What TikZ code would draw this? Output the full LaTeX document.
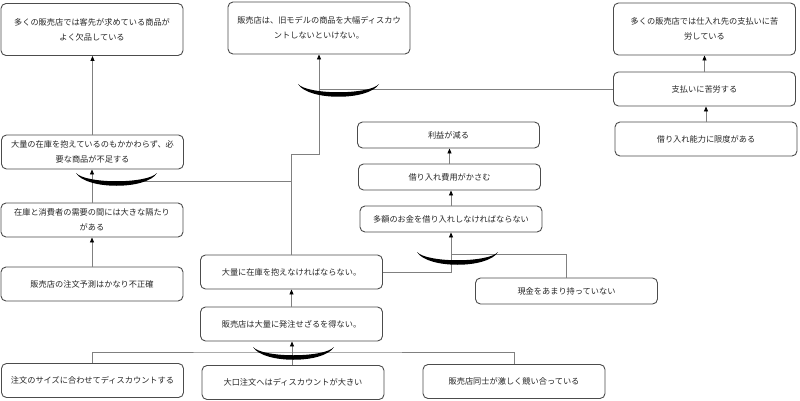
\documentclass[tikz,border=0pt]{standalone}
\usepackage{fontspec}
\newfontfamily\jpfont{Noto Sans CJK JP}
\usetikzlibrary{arrows.meta, calc}

\tikzset{
  box/.style={draw=black!70, rounded corners=5pt, line width=0.9pt, fill=white,
    align=center, text=black!85, inner sep=0pt, minimum width=182pt,
    font=\jpfont\fontsize{8.2}{15}\selectfont},
  low/.style={minimum height=26pt},
  mid/.style={minimum height=34pt},
  tall/.style={minimum height=52pt},
  link/.style={draw=black!50, line width=0.8pt},
  conn/.style={link, -{Triangle[length=5pt,width=4pt,color=black]}},
  andbar/.pic={\fill (0,0) .. controls (10,17) and (71,17) .. (81,0)
               .. controls (71,11) and (10,11) .. (0,0);}
}

\begin{document}
\begin{tikzpicture}[x=1pt, y=-1pt]
  \useasboundingbox (0,0) rectangle (800,401);
  % top row
  \node[box, tall] (stockout) at (92,29.5) {多くの販売店では客先が求めている商品が\\よく欠品している};
  \node[box, tall] (discount) at (319,28) {販売店は、旧モデルの商品を大幅ディスカウ\\ントしないといけない。};
  \node[box, tall] (payhard) at (704.5,29) {多くの販売店では仕入れ先の支払いに苦\\労している};
  % right column
  \node[box, mid] (paying) at (704.5,89) {支払いに苦労する};
  \node[box, mid] (credit) at (706,139) {借り入れ能力に限度がある};
  % middle column
  \node[box, low] (profit) at (448.5,135) {利益が減る};
  \node[box, low] (cost) at (449.5,177) {借り入れ費用がかさむ};
  \node[box, low] (borrow) at (451,219) {多額のお金を借り入れしなければならない};
  \node[box, low] (cash) at (566.5,291) {現金をあまり持っていない};
  % left column
  \node[box, mid] (shortage) at (92.5,152) {大量の在庫を抱えているのもかかわらず、必\\要な商品が不足する};
  \node[box, mid] (gap) at (92,220) {在庫と消費者の需要の間には大きな隔たり\\がある};
  \node[box, mid] (forecast) at (92,284) {販売店の注文予測はかなり不正確};
  \node[box, mid] (stock) at (291.5,272) {大量に在庫を抱えなければならない。};
  \node[box, mid] (order) at (291.5,324) {販売店は大量に発注せざるを得ない。};
  % bottom row
  \node[box, mid] (sizedisc) at (92.5,380.5) {注文のサイズに合わせてディスカウントする};
  \node[box, mid] (bulkdisc) at (293,382.5) {大口注文へはディスカウントが大きい};
  \node[box, mid] (compete) at (514,381.5) {販売店同士が激しく競い合っている};

  % junction points
  \coordinate (jB) at (319,154);
  \coordinate (jJ) at (92,181);
  \coordinate (jH) at (451,254);
  \coordinate (jN) at (292,352);

  % connectors
  \draw[conn] (shortage.north) -- (shortage.north |- stockout.south);
  \draw[conn] (gap.north) -- (gap.north |- shortage.south);
  \draw[conn] (forecast.north) -- (gap.south);
  \draw[conn] (stock.north) |- (jB) -- (discount.south);
  \draw[link] (stock.north |- jJ) -- (jJ);
  \draw[link] (paying.west) -- (paying.west -| discount.south);
  \draw[conn] (credit.north) -- (credit.north |- paying.south);
  \draw[conn] (paying.north) -- (payhard.south);
  \draw[conn] (cost.north) -- (cost.north |- profit.south);
  \draw[conn] (borrow.north) -- (borrow.north |- cost.south);
  \draw[conn] (stock.east) -| (borrow.south);
  \draw[link] (cash.north) |- (jH);
  \draw[conn] (order.north) -- (stock.south);
  \draw[link] (sizedisc.north) |- (jN) -| (compete.north);
  \draw[conn] (bulkdisc.north -| jN) -- (order.south -| jN);

  % AND bars
  \pic at (76,173) {andbar};
  \pic at (298,84) {andbar};
  \pic at (417,252) {andbar};
  \pic at (253,347) {andbar};
\end{tikzpicture}
\end{document}
